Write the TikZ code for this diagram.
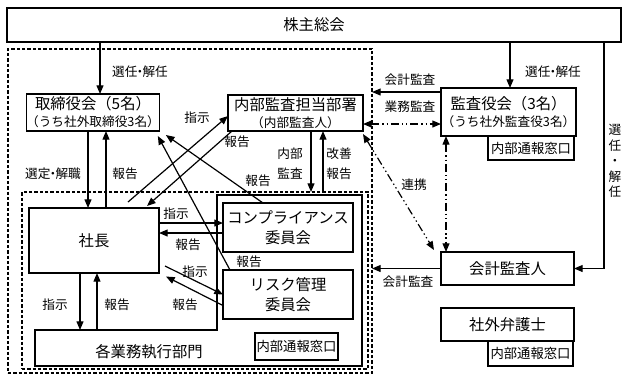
\documentclass[tikz,border=0pt]{standalone}
\usepackage{fontspec}
\setmainfont{Noto Sans CJK JP}
\usetikzlibrary{arrows.meta,calc}
\newcommand\bx[7][box]{\node[#1,minimum width={(#5-#3)*0.75pt},minimum height={(#6-#4)*0.75pt}] (#2) at ({(#3+#5)/2},{(#4+#6)/2}) {#7};}
\newcommand\nk{\hspace{-0.3em}}
\begin{document}
\begin{tikzpicture}[x=0.75pt,y=-0.75pt,
  box/.style={draw,line width=0.9pt,inner sep=0pt,outer sep=0pt,align=center,font=\fontsize{11.5}{15}\selectfont},
  twoline/.style={box,font=\fontsize{11.5}{12.8}\selectfont},
  thickbox/.style={box,line width=1.6pt},
  mado/.style={box,font=\fontsize{10}{12}\selectfont,fill=white},
  dbox/.style={draw,line width=0.9pt,dash pattern=on 2.4pt off 1.6pt,inner sep=0pt,outer sep=0pt},
  arr/.style={line width=0.9pt,-{Triangle[length=6.5pt,width=5.2pt]}},
  ddarr/.style={line width=0.9pt,{Triangle[length=6.5pt,width=5.2pt]}-{Triangle[length=6.5pt,width=5.2pt]},dash pattern=on 6pt off 2.2pt on 1pt off 2.2pt on 1pt off 2.2pt},
  lbl/.style={inner sep=0pt,font=\fontsize{9.5}{12}\selectfont,align=center},
  big/.style={inner sep=0pt,font=\fontsize{11.5}{15}\selectfont}
]
\useasboundingbox (0,0) rectangle (628,380);

% dashed frames
\bx[dbox]{outer}{8}{49}{372}{373}{}
\bx[dbox]{inner}{22}{192}{368}{369}{}

% boxes
\bx{kabu}{7}{8}{621}{42}{株主総会}
\bx[twoline]{tori}{29}{94}{157}{131}{取締役会（5名）\\{\fontsize{9.5}{12.8}\selectfont（うち社外取締役3名）}}
\bx[twoline]{naibu}{228}{95}{363}{131}{内部監査担当部署\\{\fontsize{9.5}{12.8}\selectfont（内部監査人）}}
\bx[twoline]{kansa}{441}{88}{576}{136}{監査役会（3名）\\{\fontsize{9.5}{12.8}\selectfont（うち社外監査役3名）}}
\bx[mado]{kmado}{488}{136}{574}{160}{内部通報窓口}
\bx{kaikei}{441}{252}{574}{285}{会計監査人}
\bx{bengo}{441}{308}{574}{341}{社外弁護士}
\bx[mado]{bmado}{488}{341}{573}{366}{内部通報窓口}
\bx{shacho}{29}{208}{159}{273}{社長}
\bx[thickbox]{comp}{223}{203}{353}{252}{コンプライアンス\\委員会}
\bx[thickbox]{risk}{223}{270}{353}{319}{リスク管理\\委員会}

% business division outline
\draw[line width=0.9pt] (35,330) -- (217,330) -- (217,195) -- (362,195) -- (362,366) -- (35,366) -- cycle;
\bx[inner sep=0pt,outer sep=0pt]{gyomu}{35}{330}{217}{366}{}
\node[big] (gyomut) at (149,352) {各業務執行部門};
\bx[mado]{gmado}{255}{333}{338}{360}{内部通報窓口}

% helper coordinates
\coordinate (xA) at (100,0);
\coordinate (xB) at (510,0);
\coordinate (xC) at (604,0);
\coordinate (x88) at (88,0);
\coordinate (x106) at (106,0);
\coordinate (x80) at (80,0);
\coordinate (x97) at (97,0);
\coordinate (x311) at (311,0);
\coordinate (x323) at (323,0);
\coordinate (x446) at (446,0);
\coordinate (y92) at (0,92);
\coordinate (y124) at (0,124);
\coordinate (y223) at (0,223);
\coordinate (y233) at (0,233);

% connectors
\draw[arr] (kabu.south -| xA) -- (tori.north -| xA);
\draw[arr] (kabu.south -| xB) -- (kansa.north -| xB);
\draw[arr] (kabu.south -| xC) |- (kaikei.east);
\draw[arr] (kansa.west |- y92) -- (outer.east |- y92);
\draw[ddarr] (naibu.east |- y124) -- (kansa.west |- y124);
\draw[ddarr] (kansa.south -| x446) -- (kaikei.north -| x446);
\draw[ddarr] ($(naibu.south east)+(0,3)$) -- ($(kaikei.north west)+(-7,-2)$);
\draw[arr] (kaikei.west) -- (outer.east |- kaikei.west);
\draw[arr] (tori.south -| x88) -- (shacho.north -| x88);
\draw[arr] (shacho.north -| x106) -- (tori.south -| x106);
\draw[arr] (shacho.south -| x80) -- (gyomu.north -| x80);
\draw[arr] (gyomu.north -| x97) -- (shacho.south -| x97);
\draw[arr] (naibu.south -| x311) -- (inner.north -| x311);
\draw[arr] (inner.north -| x323) -- (naibu.south -| x323);
\draw[arr] (shacho.east |- y223) -- (comp.west |- y223);
\draw[arr] (comp.west |- y233) -- (shacho.east |- y233);
\draw[arr] ($(shacho.east)+(6,25.5)$) -- (risk.west);
\draw[arr] ($(risk.west)+(0,11)$) -- ($(shacho.east)+(7,36)$);
\draw[arr] ($(shacho.north)+(34,-6)$) -- ($(naibu.west)+(0,3)$);
\draw[arr] ($(naibu.south west)+(4,0)$) -- ($(shacho.north)+(53,-2)$);
\draw[arr] ($(comp.north west)+(40,0)$) -- ($(tori.south east)+(6,4)$);
\draw[arr] ($(risk.north west)+(7,0)$) -- ($(tori.south east)+(-2,5)$);

% labels
\node[lbl] (l1) at (140,72) {選任\nk{}・\nk{}解任};
\node[lbl] (l2) at (553,72) {選任\nk{}・\nk{}解任};
\node[lbl,font=\fontsize{9.5}{11.6}\selectfont] (l3) at (615,161) {選\\任\\・\\解\\任};
\node[lbl] (l4) at (410,80) {会計監査};
\node[lbl] (l5) at (410,107) {業務監査};
\node[lbl] (l6) at (197,118) {指示};
\node[lbl] (l7) at (237,142) {報告};
\node[lbl,font=\fontsize{9.5}{15}\selectfont] (l8) at (290,164) {内部\\監査};
\node[lbl,font=\fontsize{9.5}{15}\selectfont] (l9) at (339,164) {改善\\報告};
\node[lbl] (l10) at (258,181) {報告};
\node[lbl] (l11) at (53,174) {選定\nk{}・\nk{}解職};
\node[lbl] (l12) at (125,174) {報告};
\node[lbl] (l13) at (414,185) {連携};
\node[lbl] (l14) at (176,214) {指示};
\node[lbl] (l15) at (188,245) {報告};
\node[lbl] (l16) at (195,272) {指示};
\node[lbl] (l17) at (249,262) {報告};
\node[lbl] (l18) at (185,305) {報告};
\node[lbl] (l19) at (55,305) {指示};
\node[lbl] (l20) at (117,305) {報告};
\node[lbl] (l21) at (408,282) {会計監査};
\end{tikzpicture}
\end{document}
